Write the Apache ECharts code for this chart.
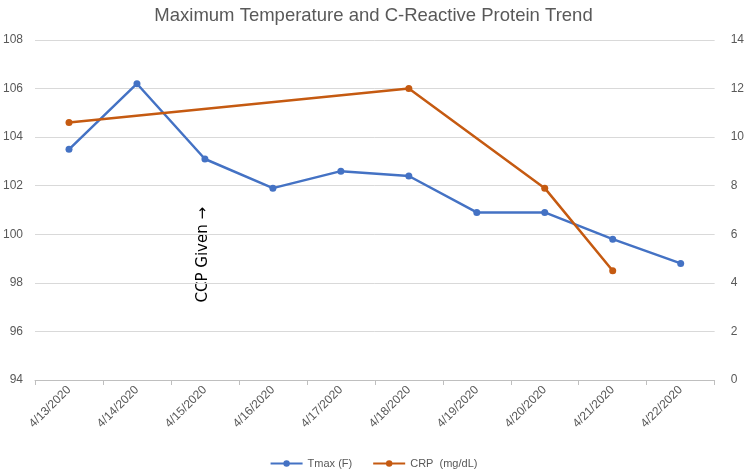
<!DOCTYPE html>
<html><head><meta charset="utf-8">
<script src="https://cdn.jsdelivr.net/npm/echarts@6/dist/echarts.min.js"></script>
<style>html,body{margin:0;padding:0;background:#fff}#c{width:747px;height:470px}</style>
</head><body><div id="c"></div>
<script>
var categories = ['4/13/2020','4/14/2020','4/15/2020','4/16/2020','4/17/2020','4/18/2020','4/19/2020','4/20/2020','4/21/2020','4/22/2020'];
var tmax = [103.5, 106.2, 103.1, 101.9, 102.6, 102.4, 100.9, 100.9, 99.8, 98.8];
var crp = [10.6, null, null, null, null, 12.0, null, 7.9, 4.5, null];
var chart = echarts.init(document.getElementById('c'));
var font = 'Liberation Sans';
chart.setOption({
  animation: false,
  textStyle: {fontFamily: font},
  title: {text: 'Maximum Temperature and C-Reactive Protein Trend', left: 'center', top: 1,
    textStyle: {fontSize: 18.5, fontWeight: 'normal', color: '#595959', fontFamily: font}},
  legend: {top: 453, left: 'center', itemWidth: 32, itemHeight: 8, itemGap: 20,
    textStyle: {fontSize: 11, color: '#595959'},
    data: ['Tmax (F)', 'CRP  (mg/dL)']},
  grid: {left: 34, right: 29, top: 40, bottom: 90},
  xAxis: {type: 'category', data: categories, boundaryGap: true,
    axisLine: {lineStyle: {color: '#BFBFBF'}},
    axisTick: {show: true, length: 5, lineStyle: {color: '#BFBFBF'}},
    axisLabel: {rotate: 45, color: '#595959', fontSize: 12, margin: 8}},
  yAxis: [
    {type: 'value', min: 94, max: 108, interval: 2, position: 'left',
     axisLine: {show: false}, axisTick: {show: false},
     axisLabel: {color: '#595959', fontSize: 12, margin: 12},
     splitLine: {lineStyle: {color: '#D9D9D9'}}},
    {type: 'value', min: 0, max: 14, interval: 2, position: 'right',
     axisLine: {show: false}, axisTick: {show: false},
     axisLabel: {color: '#595959', fontSize: 12, margin: 16},
     splitLine: {show: false}}
  ],
  series: [
    {name: 'Tmax (F)', type: 'line', yAxisIndex: 0, data: tmax, symbol: 'circle', symbolSize: 7,
     itemStyle: {color: '#4472C4'}, lineStyle: {width: 2.5, color: '#4472C4'}},
    {name: 'CRP  (mg/dL)', type: 'line', yAxisIndex: 1, data: crp, connectNulls: true, symbol: 'circle', symbolSize: 7,
     itemStyle: {color: '#C55A11'}, lineStyle: {width: 2.5, color: '#C55A11'}}
  ],
  graphic: [{type: 'text', left: 196, top: 207, rotation: Math.PI / 2,
    style: {text: 'CCP Given \u2192', font: '15px "DejaVu Sans"', fill: '#000'}}]
});
</script></body></html>
